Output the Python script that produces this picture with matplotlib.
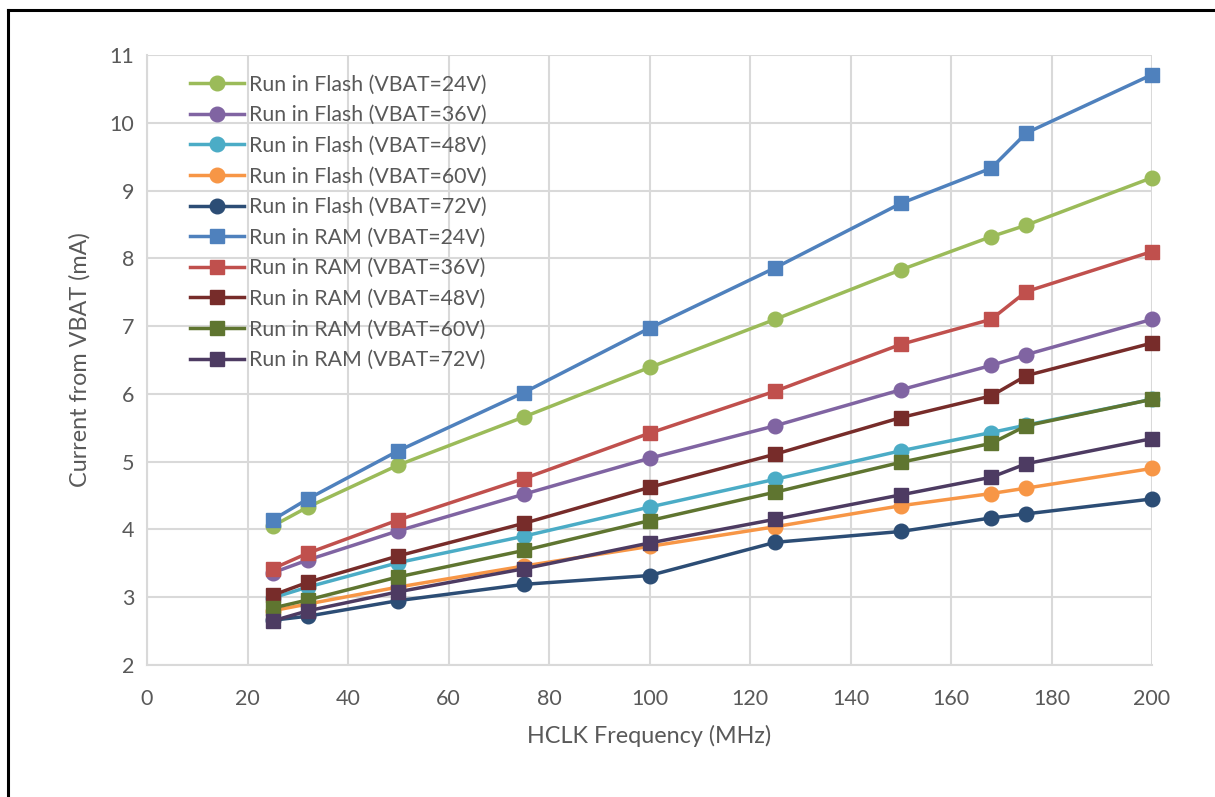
import matplotlib
matplotlib.use('Agg')
from matplotlib import pyplot as plt
from matplotlib.lines import Line2D

plt.rcParams['font.family'] = ['Lato', 'DejaVu Sans']

freq = [25, 32, 50, 75, 100, 125, 150, 168, 175, 200]

flash_24 = [4.05, 4.33, 4.95, 5.66, 6.39, 7.10, 7.83, 8.32, 8.49, 9.19]
flash_36 = [3.36, 3.55, 3.98, 4.52, 5.05, 5.53, 6.06, 6.42, 6.58, 7.10]
flash_48 = [2.99, 3.15, 3.51, 3.90, 4.33, 4.74, 5.16, 5.43, 5.54, 5.92]
flash_60 = [2.80, 2.90, 3.15, 3.46, 3.75, 4.04, 4.35, 4.53, 4.61, 4.90]
flash_72 = [2.66, 2.72, 2.95, 3.19, 3.32, 3.81, 3.97, 4.17, 4.23, 4.45]
ram_24 = [4.14, 4.45, 5.16, 6.02, 6.97, 7.86, 8.81, 9.33, 9.85, 10.71]
ram_36 = [3.42, 3.65, 4.14, 4.75, 5.42, 6.04, 6.73, 7.10, 7.51, 8.10]
ram_48 = [3.03, 3.22, 3.61, 4.09, 4.62, 5.11, 5.65, 5.97, 6.27, 6.75]
ram_60 = [2.84, 2.96, 3.30, 3.69, 4.13, 4.55, 4.99, 5.27, 5.53, 5.92]
ram_72 = [2.65, 2.80, 3.08, 3.42, 3.80, 4.15, 4.51, 4.77, 4.97, 5.34]

series = [
    ('Run in Flash (VBAT=24V)', flash_24, '#9BBB59', 'o'),
    ('Run in Flash (VBAT=36V)', flash_36, '#8064A2', 'o'),
    ('Run in Flash (VBAT=48V)', flash_48, '#4BACC6', 'o'),
    ('Run in Flash (VBAT=60V)', flash_60, '#F79646', 'o'),
    ('Run in Flash (VBAT=72V)', flash_72, '#2C4D75', 'o'),
    ('Run in RAM (VBAT=24V)', ram_24, '#4F81BD', 's'),
    ('Run in RAM (VBAT=36V)', ram_36, '#C0504D', 's'),
    ('Run in RAM (VBAT=48V)', ram_48, '#772C2A', 's'),
    ('Run in RAM (VBAT=60V)', ram_60, '#5F7530', 's'),
    ('Run in RAM (VBAT=72V)', ram_72, '#4D3B62', 's'),
]

text_color = '#595959'
grid_color = '#D9D9D9'

fig = plt.figure(figsize=(12.15, 7.97), dpi=100)
ax = fig.add_axes([147 / 1215, 1 - 665 / 797, (1152 - 147) / 1215, (665 - 55) / 797])

for label, values, color, marker in series:
    ax.plot(freq, values, color=color, marker=marker, linewidth=2.5,
            markersize=10.5, label=label, clip_on=False)

ax.set_xlim(0, 200)
ax.set_ylim(2, 11)
ax.set_xticks(range(0, 201, 20))
ax.set_yticks(range(2, 12))
ax.grid(True, color=grid_color, linewidth=1.5)
ax.set_axisbelow(True)
for side in ['top', 'right']:
    ax.spines[side].set_visible(False)
for side in ['left', 'bottom']:
    ax.spines[side].set_color(grid_color)
    ax.spines[side].set_linewidth(1.5)
ax.tick_params(length=0, labelsize=15.5, colors=text_color, pad=9)
ax.tick_params(axis='x', pad=17)
ax.set_xlabel('HCLK Frequency (MHz)', fontsize=16.8, color=text_color, labelpad=12)
ax.set_ylabel('Current from VBAT (mA)', fontsize=16.8, color=text_color, labelpad=14)

ax.legend(loc='upper left', bbox_to_anchor=(0.043, 0.968), frameon=False,
          fontsize=15.3, labelcolor=text_color, handlelength=2.55, handletextpad=0.2,
          labelspacing=0.5, borderaxespad=0, borderpad=0)

# outer frame (top and left edges visible)
fig.add_artist(Line2D([8 / 1215, 8 / 1215], [0, 1 - 10 / 797], color='black', linewidth=2.2))
fig.add_artist(Line2D([8 / 1215, 1], [1 - 10 / 797, 1 - 10 / 797], color='black', linewidth=2.2))

fig.savefig('out.png', dpi=100)
